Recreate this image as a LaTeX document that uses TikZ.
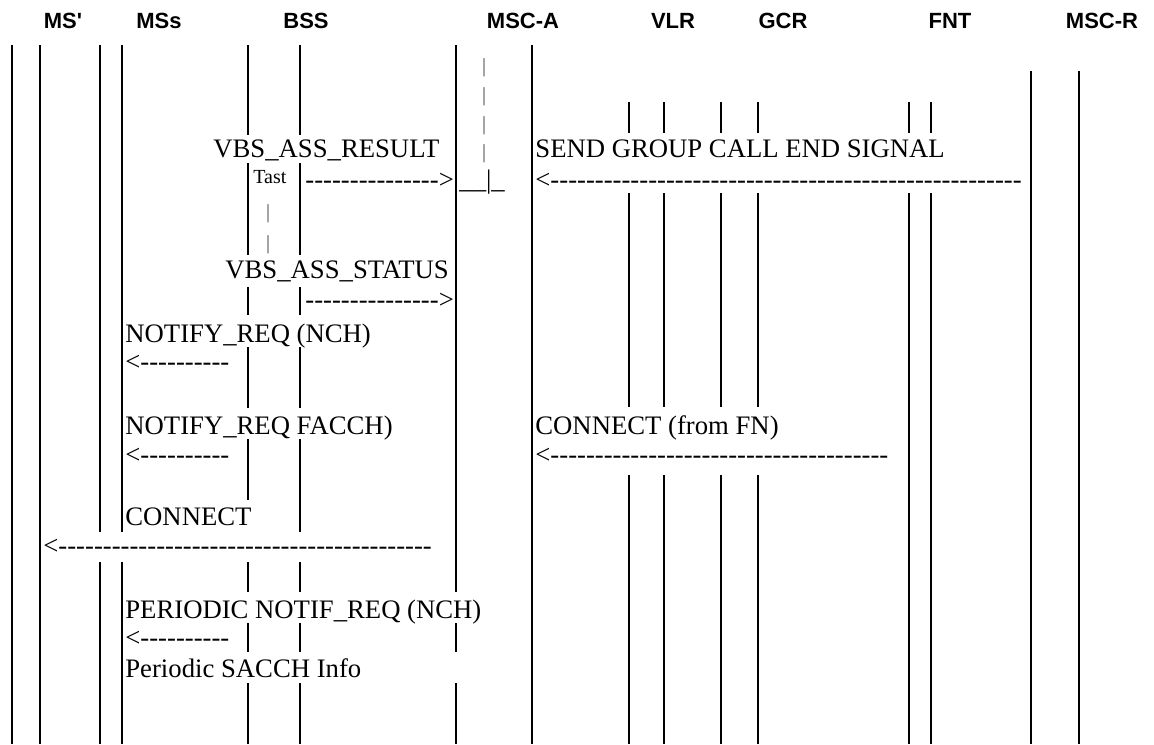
\documentclass[tikz,border=0pt]{standalone}
\usepackage{fontspec}
\setmainfont{Liberation Serif}
\newfontfamily\hdrfont{Liberation Sans}

\newcommand\msgsize{\fontsize{13.35}{16}\selectfont}
\newcommand\smallsize{\fontsize{10}{12}\selectfont}
\newcommand\dashes[1]{\foreach \n in {1,...,#1}{-\kern0pt}}

\tikzset{
 life/.style={line width=0.9pt},
 hdr/.style={anchor=base, inner sep=0pt, font=\hdrfont\bfseries\fontsize{11}{13}\selectfont},
 msg/.style={anchor=base west, inner sep=0pt, font=\msgsize},
 tick/.style={anchor=base, inner sep=0pt, font=\smallsize, text=black!70},
}

\begin{document}
\begin{tikzpicture}[x=0.5pt,y=-0.5pt]
 \useasboundingbox (0,0) rectangle (1154,744);

 % entities
 \node[hdr] (msprime) at (63,28)   {MS\textquotesingle};
 \node[hdr] (mss)     at (159,28)  {MSs};
 \node[hdr] (bss)     at (306,28)  {BSS};
 \node[hdr] (msca)    at (523,28)  {MSC-A};
 \node[hdr] (vlr)     at (673,28)  {VLR};
 \node[hdr] (gcr)     at (783,28)  {GCR};
 \node[hdr] (fnt)     at (950,28)  {FNT};
 \node[hdr] (mscr)    at (1102,28) {MSC-R};

 % life lines MS'
 \draw[life] (12,45) -- (12,744);
 \draw[life] (40,45) -- (40,744);

 % life lines MSs
 \draw[life] (100,45) -- (100,532);
 \draw[life] (100,562) -- (100,744);
 \draw[life] (122,45) -- (122,532);
 \draw[life] (122,562) -- (122,744);

 % life lines BSS
 \draw[life] (248,45) -- (248,135);
 \draw[life] (248,163) -- (248,255);
 \draw[life] (248,287) -- (248,315);
 \draw[life] (248,347) -- (248,408);
 \draw[life] (248,439) -- (248,500);
 \draw[life] (248,562) -- (248,592);
 \draw[life] (248,623) -- (248,652);
 \draw[life] (248,683) -- (248,744);

 \draw[life] (300,45) -- (300,135);
 \draw[life] (300,163) -- (300,255);
 \draw[life] (300,287) -- (300,315);
 \draw[life] (300,347) -- (300,408);
 \draw[life] (300,439) -- (300,532);
 \draw[life] (300,562) -- (300,592);
 \draw[life] (300,623) -- (300,652);
 \draw[life] (300,683) -- (300,744);

 % life lines MSC-A
 \draw[life] (456,45) -- (456,592);
 \draw[life] (456,623) -- (456,652);
 \draw[life] (456,683) -- (456,744);
 \draw[life] (532,45) -- (532,744);

 % life lines VLR, GCR
 \draw[life] (629,102) -- (629,133);
 \draw[life] (629,193) -- (629,407);
 \draw[life] (629,475) -- (629,744);
 \draw[life] (664,102) -- (664,133);
 \draw[life] (664,193) -- (664,407);
 \draw[life] (664,475) -- (664,744);
 \draw[life] (721,102) -- (721,133);
 \draw[life] (721,193) -- (721,407);
 \draw[life] (721,475) -- (721,744);
 \draw[life] (758,102) -- (758,133);
 \draw[life] (758,193) -- (758,407);
 \draw[life] (758,475) -- (758,744);

 % life lines FNT
 \draw[life] (909,102) -- (909,133);
 \draw[life] (909,193) -- (909,744);
 \draw[life] (931,102) -- (931,133);
 \draw[life] (931,193) -- (931,744);

 % life lines MSC-R
 \draw[life] (1031,71) -- (1031,744);
 \draw[life] (1079,71) -- (1079,744);

 % timers
 \node[tick] (ta) at (484,72)  {|};
 \node[tick] (tb) at (484,101) {|};
 \node[tick] (tc) at (484,130) {|};
 \node[tick] (td) at (484,158) {|};
 \node[msg]  (te) at (459,188) {\_\_|\_};

 \node[tick, anchor=base west, text=black] (tast) at (253,183) {Tast};
 \node[tick] (tf) at (268,218) {|};
 \node[tick] (tg) at (268,249) {|};

 % messages
 \node[msg] (result)  at (213,157) {VBS\_ASS\_RESULT};
 \node[msg] (resarr)  at (305,188) {\dashes{15}>};
 \node[msg] (status)  at (225,278) {VBS\_ASS\_STATUS};
 \node[msg] (statarr) at (305,308) {\dashes{15}>};

 \node[msg] (notnch)  at (125,342) {NOTIFY\_REQ (NCH)};
 \node[msg] (nncharr) at (125,370) {<\dashes{10}};
 \node[msg] (notfac)  at (125,434) {NOTIFY\_REQ FACCH)};
 \node[msg] (nfacarr) at (125,463) {<\dashes{10}};
 \node[msg] (conn)    at (125,525) {CONNECT};
 \node[msg] (connarr) at (43,554)  {<\dashes{42}};

 \node[msg] (pernch)  at (125,618) {PERIODIC NOTIF\_REQ (NCH)};
 \node[msg] (perarr)  at (125,646) {<\dashes{10}};
 \node[msg] (sacch)   at (125,677) {Periodic SACCH Info};

 \node[msg] (sendgc)  at (535,157) {SEND GROUP CALL END SIGNAL};
 \node[msg] (sendarr) at (535,188) {<\dashes{53}};
 \node[msg] (connfn)  at (535,434) {CONNECT (from FN)};
 \node[msg] (fnarr)   at (535,463) {<\dashes{38}};

\end{tikzpicture}
\end{document}
